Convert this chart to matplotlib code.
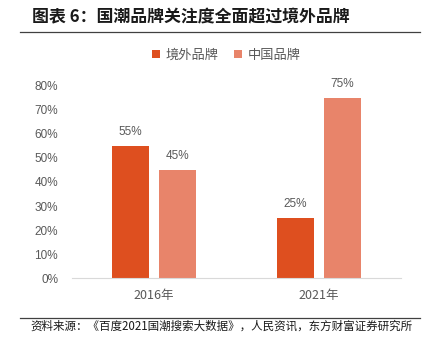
import numpy as np
import matplotlib
matplotlib.use("Agg")
import matplotlib.pyplot as plt
from matplotlib.lines import Line2D

plt.rcParams['font.family'] = ['Noto Sans CJK SC', 'DejaVu Sans']

# Données
annees = ["2016年", "2021年"]
series = ["境外品牌", "中国品牌"]
valeurs_etrangeres = [55, 25]
valeurs_chinoises = [45, 75]
yticks = [0, 10, 20, 30, 40, 50, 60, 70, 80]

couleurs = ["#DE4F1F", "#E8846A"]
gris = "#595959"

fig = plt.figure(figsize=(4.31, 3.52), dpi=100)
ax = fig.add_axes([0.167, 0.210, 0.763, 0.546])

x = np.arange(len(annees))
largeur = 0.225
decal = 0.143
b1 = ax.bar(x - decal, valeurs_etrangeres, largeur, color=couleurs[0], label=series[0])
b2 = ax.bar(x + decal, valeurs_chinoises, largeur, color=couleurs[1], label=series[1])

# Étiquettes au-dessus des barres
for barres in (b1, b2):
    for b in barres:
        ax.annotate(f"{b.get_height():.0f}%", (b.get_x() + b.get_width() / 2, b.get_height()),
                    xytext=(0, 6), textcoords="offset points", ha="center", va="bottom",
                    fontsize=8.5, color=gris, family=["Liberation Sans", "DejaVu Sans"])

ax.set_xlim(-0.5, 1.5)
ax.set_ylim(0, 80)
ax.set_yticks(yticks)
ax.set_yticklabels([f"{v}%" for v in yticks], fontsize=8.5, color=gris,
                   family=["Liberation Sans", "DejaVu Sans"])
ax.set_xticks(x)
ax.set_xticklabels(annees, fontsize=9, color=gris)
ax.tick_params(length=0, pad=8)
ax.tick_params(axis="y", pad=10)
for s in ["top", "right", "left"]:
    ax.spines[s].set_visible(False)
ax.spines["bottom"].set_color("#D9D9D9")

fig.legend(handles=[b1, b2], labels=series, loc="center", bbox_to_anchor=(0.525, 0.843),
           ncol=2, frameon=False, fontsize=9.5, labelcolor=gris,
           handlelength=0.6, handleheight=0.6, handletextpad=0.4, columnspacing=1.2)

# Titre et source
fig.text(0.074, 0.952, "图表 6：国潮品牌关注度全面超过境外品牌", fontsize=12.2, fontweight="bold",
         va="center", ha="left", color="#1a1a1a")
fig.add_artist(Line2D([0.046, 0.975], [0.910, 0.910], color="#404040", lw=0.9))
fig.add_artist(Line2D([0.046, 0.975], [0.097, 0.097], color="#404040", lw=0.9))
fig.text(0.07, 0.073, "资料来源：《百度2021国潮搜索大数据》，人民资讯，东方财富证券研究所",
         fontsize=8.3, va="center", ha="left", color="#1a1a1a")

plt.savefig("out.png", dpi=100)
plt.close()
